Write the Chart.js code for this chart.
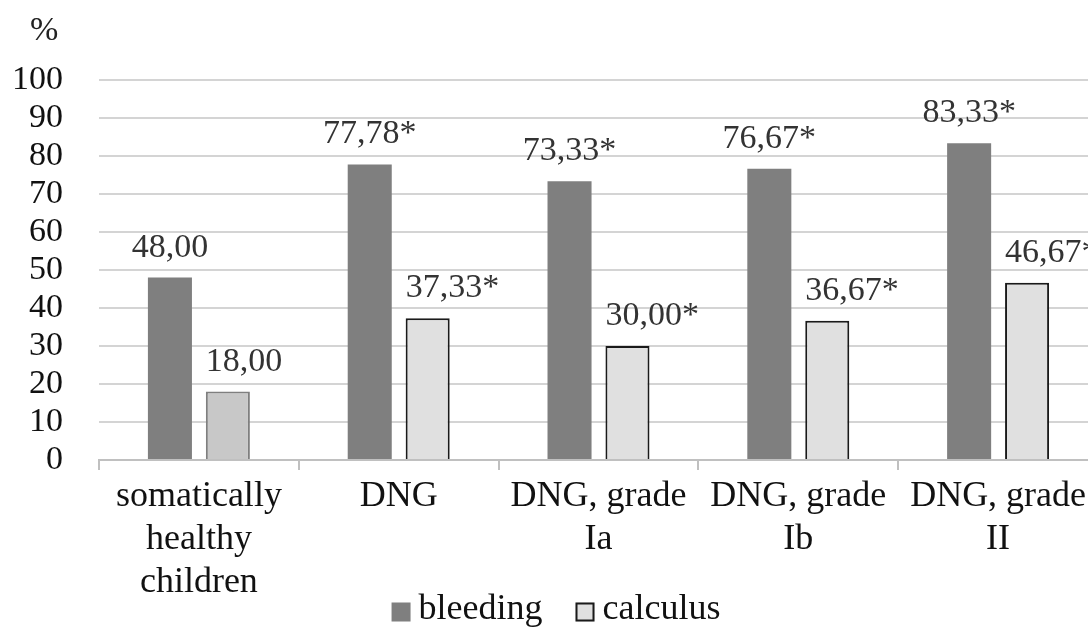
<!DOCTYPE html>
<html>
<head>
<meta charset="utf-8">
<script src="https://cdn.jsdelivr.net/npm/chart.js"></script>
<style>
  html, body { margin: 0; padding: 0; background: #fff; overflow: hidden; }
  #wrap { width: 1100px; height: 629px; }
</style>
</head>
<body>
<div id="wrap"><canvas id="gumChart" width="1100" height="629"></canvas></div>
<script>
// values
const categories = [['somatically', 'healthy', 'children'], 'DNG', ['DNG, grade', 'Ia'], ['DNG, grade', 'Ib'], ['DNG, grade', 'II']];
const bleeding = [48.00, 77.78, 73.33, 76.67, 83.33];
const calculus = [18.00, 37.33, 30.00, 36.67, 46.67];
const bleedingLabels = ['48,00', '77,78*', '73,33*', '76,67*', '83,33*'];
const calculusLabels = ['18,00', '37,33*', '30,00*', '36,67*', '46,67*'];
const yMin = 0, yMax = 100, yStep = 10;

const serif = "'Liberation Serif', 'Times New Roman', serif";

// value labels above bars + '%' unit
const barLabels = {
    id: 'barLabels',
    afterDatasetsDraw(chart) {
        const ctx = chart.ctx;
        ctx.save();
        ctx.font = '34px ' + serif;
        ctx.fillStyle = '#333';
        ctx.textBaseline = 'alphabetic';
        [bleedingLabels, calculusLabels].forEach(function(texts, di) {
            chart.getDatasetMeta(di).data.forEach(function(bar, i) {
                if (di === 0) {
                    ctx.textAlign = 'center';
                    ctx.fillText(texts[i], bar.x, bar.y - 21);
                } else {
                    ctx.textAlign = 'left';
                    ctx.fillText(texts[i], bar.x - bar.width / 2, bar.y - 21);
                }
            });
        });
        ctx.textAlign = 'left';
        ctx.fillStyle = '#222';
        ctx.fillText('%', 30, 40);
        ctx.restore();
    }
};

// legend drawn under the axis labels (excel style, overlaps the label block)
const bottomLegend = {
    id: 'bottomLegend',
    afterDraw(chart) {
        const ctx = chart.ctx;
        const box = 19, gap = 8, itemGap = 33, cy = 612;
        const swatches = [
            { fill: '#7f7f7f', stroke: null },
            { fill: '#e0e0e0', stroke: '#1a1a1a' }
        ];
        ctx.save();
        ctx.font = '36px ' + serif;
        const names = chart.data.datasets.map(d => d.label);
        const widths = names.map(n => ctx.measureText(n).width);
        let total = 0;
        widths.forEach((w, i) => { total += box + gap + w + (i ? itemGap : 0); });
        let x = chart.width / 2 + 6 - total / 2;
        ctx.textBaseline = 'middle';
        ctx.textAlign = 'left';
        names.forEach(function(name, i) {
            ctx.fillStyle = swatches[i].fill;
            ctx.fillRect(x, cy - box / 2, box, box);
            if (swatches[i].stroke) {
                ctx.strokeStyle = swatches[i].stroke;
                ctx.lineWidth = 2;
                ctx.strokeRect(x + 1, cy - box / 2 + 1, box - 2, box - 2);
            }
            ctx.fillStyle = '#111';
            ctx.fillText(name, x + box + gap, cy - 2);
            x += box + gap + widths[i] + itemGap;
        });
        ctx.restore();
    }
};

new Chart(document.getElementById('gumChart'), {
    type: 'bar',
    data: {
        labels: categories,
        datasets: [{
            label: 'bleeding',
            data: bleeding,
            backgroundColor: '#7f7f7f',
            borderWidth: 0
        }, {
            label: 'calculus',
            data: calculus,
            backgroundColor: ['#c8c8c8', '#e0e0e0', '#e0e0e0', '#e0e0e0', '#e0e0e0'],
            borderColor: ['#7f7f7f', '#1a1a1a', '#1a1a1a', '#1a1a1a', '#1a1a1a'],
            borderWidth: 2
        }]
    },
    options: {
        responsive: false,
        animation: false,
        layout: { padding: { top: 80, right: 2, left: 0, bottom: 0 } },
        datasets: {
            bar: { categoryPercentage: 0.58, barPercentage: 0.76 }
        },
        plugins: {
            tooltip: { enabled: false },
            legend: { display: false }
        },
        scales: {
            x: {
                afterFit: function(scale) { scale.height = 169; },
                grid: {
                    offset: true,
                    drawOnChartArea: false,
                    drawTicks: true,
                    tickLength: 10,
                    color: '#c0c0c0',
                    lineWidth: 2
                },
                border: { color: '#c0c0c0', width: 2 },
                ticks: {
                    font: { family: serif, size: 36, lineHeight: 1.19 },
                    color: '#111',
                    padding: 5,
                    maxRotation: 0,
                    autoSkip: false
                }
            },
            y: {
                min: yMin,
                max: yMax,
                afterFit: function(scale) { scale.width = 99; },
                grid: { color: '#d4d4d4', lineWidth: 2, drawTicks: false },
                border: { display: false },
                ticks: {
                    stepSize: yStep,
                    autoSkip: false,
                    font: { family: serif, size: 34 },
                    color: '#111',
                    padding: 36
                }
            }
        }
    },
    plugins: [barLabels, bottomLegend]
});
</script>
</body>
</html>
